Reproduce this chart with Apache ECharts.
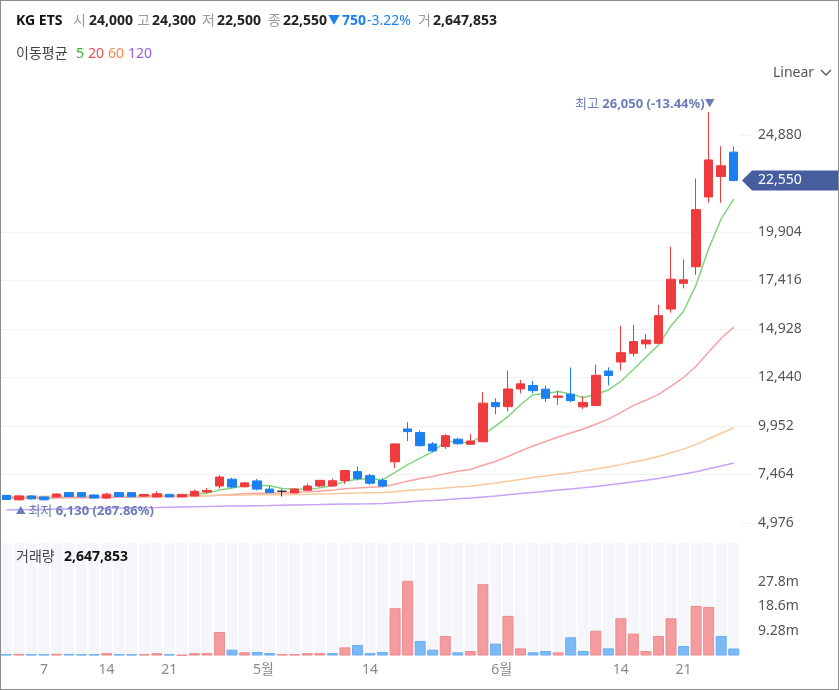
<!DOCTYPE html>
<html><head><meta charset="utf-8">
<script src="https://cdn.jsdelivr.net/npm/echarts@6/dist/echarts.min.js"></script>
<style>
html,body{margin:0;padding:0;background:#fff;}
#c{position:absolute;left:0;top:0;width:839px;height:690px;}
#frame{position:absolute;left:0;top:0;width:839px;height:690px;box-sizing:border-box;border:1px solid #8c8c8c;pointer-events:none;}
</style></head><body>
<div id="c"></div><div id="frame"></div>
<script>
// ---------------- data ----------------
const stockName = 'KG ETS';
// [open, close, low, high]
const ohlc = [
  [6390, 6180, 6150, 6410], [6160, 6360, 6130, 6400], [6360, 6210, 6170, 6390], [6310, 6160, 6140, 6340],
  [6310, 6460, 6290, 6490], [6530, 6330, 6310, 6550], [6530, 6320, 6300, 6560], [6410, 6250, 6230, 6430],
  [6250, 6450, 6230, 6530], [6530, 6330, 6300, 6550], [6530, 6320, 6300, 6550], [6350, 6440, 6330, 6470],
  [6310, 6470, 6290, 6600], [6440, 6310, 6300, 6460], [6310, 6440, 6290, 6460], [6360, 6600, 6340, 6680],
  [6560, 6640, 6490, 6770], [6870, 7330, 6740, 7420], [7220, 6820, 6740, 7290], [6830, 7030, 6790, 7080],
  [7130, 6710, 6640, 7230], [6710, 6530, 6500, 6870], [6600, 6600, 6330, 6700], [6510, 6710, 6490, 6760],
  [6650, 6870, 6610, 6980], [6870, 7160, 6800, 7180], [6870, 7140, 6820, 7250], [7150, 7660, 6980, 7680],
  [7610, 7250, 7150, 7870], [7400, 7010, 6930, 7490], [7150, 6870, 6810, 7270], [8110, 9030, 7780, 9050],
  [9800, 9660, 9180, 10140], [9610, 8940, 8890, 9710], [9030, 8670, 8600, 9120], [8890, 9450, 8770, 9530],
  [9270, 9040, 8980, 9350], [9010, 9180, 8990, 9530], [9140, 11120, 9120, 11680], [11150, 10940, 10550, 11370],
  [10940, 11850, 10690, 12790], [11850, 12110, 11630, 12310], [12030, 11760, 11630, 12260], [11840, 11370, 11170, 12020],
  [11420, 11490, 11030, 11760], [11580, 11250, 11160, 12950], [10930, 11160, 10810, 11480], [11000, 12550, 10970, 13100],
  [12770, 12540, 12030, 12960], [13230, 13710, 12800, 15090], [13680, 14280, 13520, 15130], [14160, 14360, 13920, 14660],
  [14190, 15610, 14160, 16160], [15950, 17480, 15760, 19150], [17270, 17450, 17010, 18500], [18120, 21050, 17700, 22650],
  [21700, 23600, 21400, 26050], [22750, 23300, 21400, 24300], [24000, 22550, 22500, 24300]
];
const volumes = [
  520000, 600000, 480000, 500000, 620000, 600000, 480000, 500000, 900000, 500000,
  480000, 520000, 900000, 450000, 200000, 900000, 900000, 8900000, 2200000, 1200000,
  1300000, 900000, 500000, 500000, 900000, 900000, 900000, 3100000, 4000000, 900000,
  1300000, 17900000, 28300000, 5500000, 2200000, 7400000, 1200000, 1700000, 27000000, 4500000,
  15000000, 2700000, 1200000, 1700000, 1200000, 6900000, 1700000, 9400000, 2700000, 14100000,
  8300000, 1700000, 7400000, 14100000, 3600000, 18800000, 18400000, 7400000, 2647853
];
// moving-average values before enough visible closes exist
const ma5Head = [6300, 6285, 6270, 6265];
const ma20Head = [6240, 6245, 6250, 6250, 6260, 6265, 6270, 6275, 6285, 6290, 6300, 6310, 6320, 6325, 6335, 6350, 6370, 6400, 6430];
// MA60 / MA120
const ma60 = [6330, 6335, 6335, 6340, 6340, 6345, 6345, 6350, 6350, 6355, 6355, 6358, 6360, 6360, 6362,
  6367, 6373, 6390, 6399, 6411, 6418, 6422, 6427, 6434, 6443, 6457, 6471, 6494, 6510, 6522, 6531,
  6577, 6633, 6677, 6716, 6769, 6815, 6863, 6943, 7020, 7112, 7209, 7300, 7384, 7471, 7553, 7634,
  7738, 7842, 7966, 8099, 8233, 8388, 8574, 8761, 9007, 9295, 9579, 9850];
const ma120 = [5640, 5650, 5660, 5670, 5685, 5695, 5705, 5715, 5730, 5740, 5750, 5760, 5770, 5785, 5795,
  5805, 5815, 5830, 5840, 5850, 5860, 5870, 5885, 5895, 5905, 5915, 5930, 5940, 5950, 5960, 5975,
  6015, 6055, 6095, 6130, 6170, 6210, 6250, 6305, 6360, 6420, 6480, 6540, 6600, 6660, 6720, 6780,
  6850, 6920, 7000, 7085, 7170, 7260, 7370, 7480, 7600, 7750, 7900, 8050];
const maPeriods = ['5', '20', '60', '120'];
const priceTicks = [4976, 7464, 9952, 12440, 14928, 17416, 19904, 24880];
const volumeTicks = [9.28e6, 18.56e6, 27.84e6];
const dateTickPos = [3, 8, 13, 20.5, 29, 39.5, 49, 54];
const dateTickLabels = ['7', '14', '21', '5월', '14', '6월', '14', '21'];

// ---------------- derived ----------------
const FONT = '"Noto Sans", "Noto Sans CJK KR", sans-serif';
const UP = '#ef3b3e', DOWN = '#1b80f1';
const UP_VOL = '#f39b9e', DOWN_VOL = '#7cbaf6';
const MA_COLORS = ['#82d482', '#f7a3a3', '#f9c99c', '#c8a3f5'];
const MA_TEXT = ['#33b833', '#f24e4e', '#f5894a', '#9b5de5'];
const TAG = '#465d9e', MARK = '#6b7db8';

const n = ohlc.length;
const cats = ohlc.map((d, i) => String(i));
const closes = ohlc.map(d => d[1]);
function sma(p, head) {
  return closes.map((c, i) => {
    if (i < p - 1) return head[i];
    let s = 0; for (let k = i - p + 1; k <= i; k++) s += closes[k];
    return Math.round(s / p);
  });
}
const ma5 = sma(5, ma5Head), ma20 = sma(20, ma20Head);
const fmt = v => v.toLocaleString('en-US');
const last = ohlc[n - 1], prevClose = closes[n - 2];
const chg = last[1] - prevClose, chgPct = chg / prevClose * 100;
let hiIdx = 0, loIdx = 0;
ohlc.forEach((d, i) => { if (d[3] > ohlc[hiIdx][3]) hiIdx = i; if (d[2] < ohlc[loIdx][2]) loIdx = i; });
const hiVal = ohlc[hiIdx][3], loVal = ohlc[loIdx][2];
const hiPct = (last[1] - hiVal) / hiVal * 100, loPct = (last[1] - loVal) / loVal * 100;

const volData = volumes.map((v, i) => {
  const ref = i === 0 ? ohlc[0][0] : closes[i - 1];
  const up = closes[i] >= ref;
  return { value: v, itemStyle: { color: up ? UP_VOL : DOWN_VOL, borderColor: up ? '#ee8a8e' : '#69aef3' } };
});

const chart = echarts.init(document.getElementById('c'), null, { renderer: 'canvas' });
const GL = -4.4, GR = 99;
const option = {
  animation: false,
  textStyle: { fontFamily: FONT },
  grid: [
    { left: GL, right: GR, top: 86.5, bottom: 118.6 },
    { left: GL, right: GR, top: 543.3, bottom: 34.5 }
  ],
  xAxis: [
    { type: 'category', gridIndex: 0, position: 'bottom', data: cats, boundaryGap: true, axisLine: { show: false }, axisTick: { show: false }, axisLabel: { show: false }, splitLine: { show: false } },
    { type: 'category', gridIndex: 1, position: 'bottom', data: cats, boundaryGap: true, axisLine: { show: false }, axisTick: { show: false }, axisLabel: { show: false }, splitLine: { show: false } },
    { type: 'value', gridIndex: 1, position: 'bottom', min: -0.5, max: n - 0.5, axisLine: { show: false }, axisTick: { show: false }, splitLine: { show: false },
      axisLabel: { customValues: dateTickPos, margin: 8, color: '#8a8a8a', fontSize: 14, fontFamily: FONT,
        formatter: v => { const k = dateTickPos.indexOf(v); return k >= 0 ? dateTickLabels[k] : ''; } } }
  ],
  yAxis: [
    { type: 'value', gridIndex: 0, position: 'right', min: 2488, max: 27368, interval: 2488, scale: false,
      axisLine: { show: false },
      axisTick: { show: true, customValues: priceTicks, length: 13, lineStyle: { color: '#f1f1f1' } },
      splitLine: { show: true, showMinLine: false, showMaxLine: false, lineStyle: { color: '#f1f1f1', width: 1 } },
      axisLabel: { customValues: priceTicks, margin: 18, color: '#555', fontSize: 14, fontFamily: FONT, formatter: v => fmt(v) } },
    { type: 'value', gridIndex: 1, position: 'right', min: 0, max: 42.5e6,
      axisLine: { show: false }, axisTick: { show: false }, splitLine: { show: false },
      axisLabel: { customValues: volumeTicks, margin: 18, color: '#555', fontSize: 14, fontFamily: FONT,
        formatter: v => (v / 1e6).toPrecision(3) + 'm' } }
  ],
  series: [
    { type: 'candlestick', xAxisIndex: 0, yAxisIndex: 0, data: ohlc, barWidth: 9, z: 5,
      itemStyle: { color: UP, color0: DOWN, borderColor: UP, borderColor0: DOWN, borderColorDoji: '#333', borderWidth: 1 },
      markPoint: {
        symbol: 'circle', symbolSize: 1, itemStyle: { color: 'rgba(0,0,0,0)' }, animation: false,
        data: [
          { coord: [hiIdx, hiVal], label: { show: true, position: 'top', distance: 1, align: 'right', offset: [6, 0],
            formatter: '{t|최고 }{v|' + fmt(hiVal) + ' (' + hiPct.toFixed(2) + '%)}{a|▼}',
            rich: { t: { color: MARK, fontSize: 13, fontFamily: FONT }, v: { color: MARK, fontSize: 13, fontWeight: 'bold', fontFamily: FONT }, a: { color: MARK, fontSize: 10 } } } },
          { coord: [loIdx, loVal], label: { show: true, position: 'bottom', distance: 4, align: 'left', offset: [-3, 0],
            formatter: '{a|▲ }{t|최저 }{v|' + fmt(loVal) + ' (' + loPct.toFixed(2) + '%)}',
            rich: { t: { color: MARK, fontSize: 13, fontFamily: FONT }, v: { color: MARK, fontSize: 13, fontWeight: 'bold', fontFamily: FONT }, a: { color: MARK, fontSize: 10 } } } }
        ]
      } },
    { type: 'line', name: 'MA5', xAxisIndex: 0, yAxisIndex: 0, data: ma5, symbol: 'none', z: 3, lineStyle: { color: MA_COLORS[0], width: 1.5 } },
    { type: 'line', name: 'MA20', xAxisIndex: 0, yAxisIndex: 0, data: ma20, symbol: 'none', z: 3, lineStyle: { color: MA_COLORS[1], width: 1.5 } },
    { type: 'line', name: 'MA60', xAxisIndex: 0, yAxisIndex: 0, data: ma60, symbol: 'none', z: 3, lineStyle: { color: MA_COLORS[2], width: 1.5 } },
    { type: 'line', name: 'MA120', xAxisIndex: 0, yAxisIndex: 0, data: ma120, symbol: 'none', z: 3, lineStyle: { color: MA_COLORS[3], width: 1.5 } },
    { type: 'bar', xAxisIndex: 1, yAxisIndex: 1, data: volData, barWidth: 11, showBackground: true,
      backgroundStyle: { color: '#f5f6fa' }, itemStyle: { borderWidth: 1 } }
  ]
};
chart.setOption(option);

// ---------------- annotations ----------------
const tagY = chart.convertToPixel({ yAxisIndex: 0 }, last[1]);
const gray = '#9a9a9a', dark = '#222';
const hdr = [
  { x: 16, t: stockName, c: '#111', w: 'bold' },
  { x: 73, t: '시', c: gray }, { x: 89, t: fmt(last[0]), c: dark, w: 'bold' },
  { x: 137, t: '고', c: gray }, { x: 152, t: fmt(last[3]), c: dark, w: 'bold' },
  { x: 202, t: '저', c: gray }, { x: 217, t: fmt(last[2]), c: dark, w: 'bold' },
  { x: 268, t: '종', c: gray }, { x: 283, t: fmt(last[1]), c: dark, w: 'bold' },
  { x: 328, t: chg < 0 ? '▼' : '▲', c: chg < 0 ? DOWN : UP, s: 12 },
  { x: 342, t: fmt(Math.abs(chg)), c: chg < 0 ? DOWN : UP, w: 'bold' },
  { x: 367, t: chgPct.toFixed(2) + '%', c: chg < 0 ? DOWN : UP },
  { x: 418, t: '거', c: gray }, { x: 433, t: fmt(volumes[n - 1]), c: dark, w: 'bold' }
];
const graphics = hdr.map(h => ({ type: 'text', z: 100, x: h.x, y: 21, style: { text: h.t, fill: h.c, font: (h.w || 'normal') + ' ' + (h.s || 14) + 'px ' + FONT, textVerticalAlign: 'middle' } }));
graphics.push({ type: 'text', z: 100, x: 16, y: 54, style: { text: '이동평균', fill: '#444', font: '14px ' + FONT, textVerticalAlign: 'middle' } });
const maX = [76, 88, 108, 128];
maPeriods.forEach((p, i) => graphics.push({ type: 'text', z: 100, x: maX[i], y: 54, style: { text: p, fill: MA_TEXT[i], font: '14px ' + FONT, textVerticalAlign: 'middle' } }));
graphics.push({ type: 'text', z: 100, x: 16, y: 557, style: { text: '거래량', fill: '#444', font: '14px ' + FONT, textVerticalAlign: 'middle' } });
graphics.push({ type: 'text', z: 100, x: 64, y: 557, style: { text: fmt(volumes[n - 1]), fill: '#111', font: 'bold 14px ' + FONT, textVerticalAlign: 'middle' } });
graphics.push({ type: 'text', z: 100, x: 773, y: 73, style: { text: 'Linear', fill: '#555', font: '14px ' + FONT, textVerticalAlign: 'middle' } });
graphics.push({ type: 'polyline', z: 100, shape: { points: [[821, 70], [826, 75], [831, 70]] }, style: { stroke: '#555', lineWidth: 1.3, fill: null } });
graphics.push({ type: 'polygon', z: 100, shape: { points: [[742, tagY], [752, tagY - 10], [839, tagY - 10], [839, tagY + 10], [752, tagY + 10]] }, style: { fill: TAG } });
graphics.push({ type: 'text', z: 101, x: 758, y: tagY, style: { text: fmt(last[1]), fill: '#fff', font: '14px ' + FONT, textVerticalAlign: 'middle' } });
chart.setOption({ graphic: graphics });
</script>
</body></html>
